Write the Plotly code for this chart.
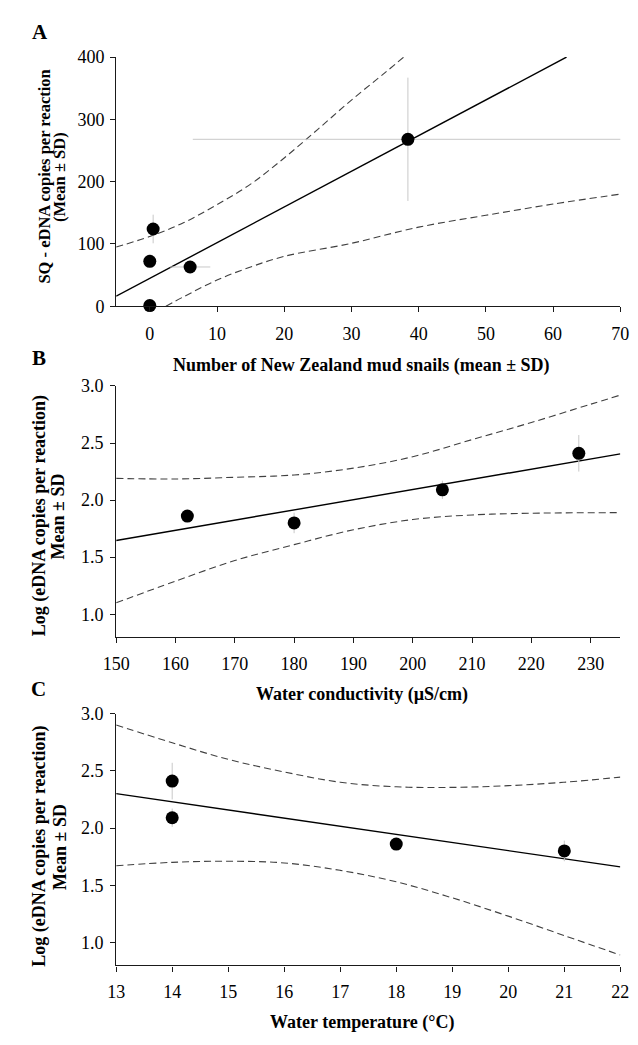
import plotly.graph_objects as go

W, H = 638, 1045

# ---------------- Panel A data ----------------
a_x = [0, 0, 0.5, 6, 38.4]
a_y = [1, 72, 124, 63, 268]
a_xsd = [0, 0, 0, 3, 32]
a_ysd = [0, 0, 23, 10, 99]
a_fit_x = [-5, 62]
a_fit_y = [16, 400]
a_up_x = [-5, 0, 5, 10, 15, 20, 25, 30, 35, 38]
a_up_y = [95, 112, 134, 163, 196, 238, 284, 331, 375, 402]
a_lo_x = [2.4, 5, 10, 15, 20, 30, 40, 50, 60, 70]
a_lo_y = [0, 15, 42, 63, 80, 101, 127, 146, 164, 180]

# ---------------- Panel B data ----------------
b_x = [162, 180, 205, 228]
b_y = [1.86, 1.80, 2.09, 2.41]
b_sd = [0.03, 0.09, 0.08, 0.16]
b_fit_x = [150, 235]
b_fit_y = [1.646, 2.405]
b_up_x = [150, 160, 170, 180, 190, 200, 210, 220, 230, 235]
b_up_y = [2.19, 2.185, 2.20, 2.22, 2.28, 2.38, 2.53, 2.68, 2.84, 2.92]
b_lo_x = [150, 160, 170, 180, 190, 200, 210, 220, 235]
b_lo_y = [1.10, 1.29, 1.47, 1.61, 1.74, 1.83, 1.87, 1.885, 1.89]

# ---------------- Panel C data ----------------
c_x = [18, 21, 14, 14]
c_y = [1.86, 1.80, 2.09, 2.41]
c_sd = [0.03, 0.09, 0.08, 0.16]
c_fit_x = [13, 22]
c_fit_y = [2.30, 1.66]
c_up_x = [13, 14, 15, 16, 17, 18, 19, 20, 21, 22]
c_up_y = [2.90, 2.745, 2.60, 2.49, 2.40, 2.36, 2.355, 2.37, 2.40, 2.445]
c_lo_x = [13, 14, 15, 16, 17, 18, 19, 20, 21, 22]
c_lo_y = [1.67, 1.70, 1.71, 1.695, 1.63, 1.53, 1.39, 1.23, 1.06, 0.89]

a_xticks = [0, 10, 20, 30, 40, 50, 60, 70]
a_yticks = [0, 100, 200, 300, 400]
b_xticks = [150, 160, 170, 180, 190, 200, 210, 220, 230]
c_xticks = [13, 14, 15, 16, 17, 18, 19, 20, 21, 22]
bc_yticks = [1.0, 1.5, 2.0, 2.5, 3.0]

FONT = "Liberation Serif"
DASH = dict(color="#404040", width=1.1, dash="7px,4px")
FIT = dict(color="black", width=1.4)
ERR = "#c8c8c8"

fig = go.Figure()


def add_panel(n, px, py, xsd, ysd, fx, fy, ux, uy, lx, ly):
    xa = "x" if n == 1 else f"x{n}"
    ya = "y" if n == 1 else f"y{n}"
    fig.add_trace(go.Scatter(x=ux, y=uy, mode="lines", line=DASH, line_shape="spline",
                             xaxis=xa, yaxis=ya, hoverinfo="skip"))
    fig.add_trace(go.Scatter(x=lx, y=ly, mode="lines", line=DASH, line_shape="spline",
                             xaxis=xa, yaxis=ya, hoverinfo="skip"))
    fig.add_trace(go.Scatter(x=fx, y=fy, mode="lines", line=FIT,
                             xaxis=xa, yaxis=ya, hoverinfo="skip"))
    kw = {}
    if xsd is not None:
        kw["error_x"] = dict(type="data", array=xsd, color=ERR, thickness=1, width=0)
    fig.add_trace(go.Scatter(x=px, y=py, mode="markers",
                             marker=dict(color="black", size=13),
                             error_y=dict(type="data", array=ysd, color=ERR, thickness=1, width=0),
                             cliponaxis=False, xaxis=xa, yaxis=ya, **kw))


add_panel(1, a_x, a_y, a_xsd, a_ysd, a_fit_x, a_fit_y, a_up_x, a_up_y, a_lo_x, a_lo_y)
add_panel(2, b_x, b_y, None, b_sd, b_fit_x, b_fit_y, b_up_x, b_up_y, b_lo_x, b_lo_y)
add_panel(3, c_x, c_y, None, c_sd, c_fit_x, c_fit_y, c_up_x, c_up_y, c_lo_x, c_lo_y)

xdom = [106 / W, 629 / W]


def ydom(top, bottom):
    return [1 - bottom / H, 1 - top / H]


common = dict(showline=True, linecolor="#1a1a1a", linewidth=1.3, ticks="outside",
              ticklen=5, tickwidth=1, tickcolor="#1a1a1a", showgrid=False, zeroline=False,
              tickfont=dict(family=FONT, size=18, color="black"), fixedrange=True)

fig.update_layout(
    width=W, height=H, margin=dict(l=0, r=0, t=0, b=0), autosize=False,
    paper_bgcolor="white", plot_bgcolor="white", showlegend=False,
    xaxis=dict(domain=xdom, range=[-5, 70], tickvals=a_xticks, anchor="y",
               ticklabelstandoff=6, **common),
    yaxis=dict(domain=ydom(48, 302), range=[0, 400], tickvals=a_yticks, anchor="x",
               ticklabelstandoff=2, **common),
    xaxis2=dict(domain=xdom, range=[150, 235], tickvals=b_xticks, anchor="y2",
                ticklabelstandoff=5, **common),
    yaxis2=dict(domain=ydom(383.3, 639.3), range=[0.8, 3.0], tickvals=bc_yticks,
                tickformat=".1f", anchor="x2", ticklabelstandoff=3, **common),
    xaxis3=dict(domain=xdom, range=[13, 22], tickvals=c_xticks, anchor="y3",
                ticklabelstandoff=5, **common),
    yaxis3=dict(domain=ydom(717.3, 974), range=[0.8, 3.0], tickvals=bc_yticks,
                tickformat=".1f", anchor="x3", ticklabelstandoff=3, **common),
)


def ann(text, px, py, size, angle=0, bold=True):
    fig.add_annotation(
        text=f"<b>{text}</b>" if bold else text,
        x=px / W, y=1 - py / H, xref="paper", yref="paper",
        xanchor="center", yanchor="middle", showarrow=False, textangle=angle,
        font=dict(family=FONT, size=size, color="black"))


# panel letters
ann("A", 27, 22, 21)
ann("B", 26, 355, 21)
ann("C", 25, 692, 21)

# x-axis titles
ann("Number of New Zealand mud snails (mean ± SD)", 361, 362, 18)
ann("Water conductivity (µS/cm)", 361, 698, 18)
ann("Water temperature (°C)", 361, 1032, 18)

# y-axis titles
ann("SQ - eDNA copies per reaction", 32, 170, 16.5, -90)
ann("(Mean ± SD)", 47, 170, 16.5, -90)
ann("Log (eDNA copies per reaction)", 26, 516, 18, -90)
ann("Mean ± SD", 46, 516, 18, -90)
ann("Log (eDNA copies per reaction)", 27, 853, 18, -90)
ann("Mean ± SD", 47, 853, 18, -90)

fig.write_html("out.html", config={"displayModeBar": False},
               post_script="document.body.style.margin='0px';document.body.style.overflow='hidden';")
